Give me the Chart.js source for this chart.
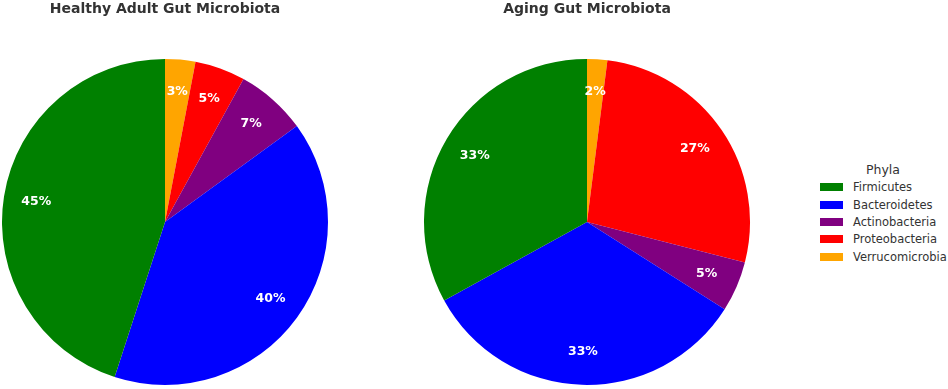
<!DOCTYPE html>
<html>
<head>
<meta charset="utf-8">
<script src="https://cdn.jsdelivr.net/npm/chart.js@4.4.0/dist/chart.umd.min.js"></script>
<style>
  body { margin: 0; background: #fff; font-family: "DejaVu Sans", sans-serif; }
  #wrap { position: relative; width: 948px; height: 389px; }
  canvas { position: absolute; top: 0; }
  #left { left: 0; }
  #right { left: 422px; }
  #legend { position: absolute; left: 820px; top: 162px; width: 128px; color: #333; font-size: 11.5px; }
  #legend .ttl { text-align: center; font-size: 12.5px; line-height: 15px; margin-bottom: 1.5px; padding-right: 2px; }
  #legend .row { display: flex; align-items: center; height: 17.4px; white-space: nowrap; }
  #legend .box { width: 23px; height: 8px; margin-right: 10px; flex: none; }
</style>
</head>
<body>
<div id="wrap">
  <canvas id="left" width="330" height="389"></canvas>
  <canvas id="right" width="330" height="389"></canvas>
  <div id="legend"></div>
</div>
<script>
const phyla = ['Firmicutes', 'Bacteroidetes', 'Actinobacteria', 'Proteobacteria', 'Verrucomicrobia'];
const healthyValues = [45, 40, 7, 5, 3];
const agingValues = [33, 33, 5, 27, 2];
const phylaColors = ['#008000', '#0000ff', '#800080', '#ff0000', '#ffa500'];
const titles = ['Healthy Adult Gut Microbiota', 'Aging Gut Microbiota'];

// percent labels at 0.8 of the radius, like matplotlib pctdistance
const pctLabels = {
    id: 'pctLabels',
    afterDatasetsDraw(chart) {
        const ctx = chart.ctx;
        const data = chart.data.datasets[0].data;
        const total = data.reduce((a, b) => a + b, 0);
        ctx.save();
        ctx.fillStyle = '#fff';
        ctx.font = 'bold 12.5px "DejaVu Sans"';
        ctx.textAlign = 'center';
        ctx.textBaseline = 'middle';
        chart.getDatasetMeta(0).data.forEach((arc, i) => {
            const mid = (arc.startAngle + arc.endAngle) / 2;
            const r = arc.outerRadius * 0.8;
            ctx.fillText(Math.round(data[i] / total * 100) + '%', arc.x + Math.cos(mid) * r, arc.y + Math.sin(mid) * r);
        });
        ctx.restore();
    }
};

function drawPie(id, values, title) {
    // chart.js goes clockwise, matplotlib counter-clockwise: reverse the order
    new Chart(document.getElementById(id), {
        type: 'pie',
        data: {
            labels: phyla.slice().reverse(),
            datasets: [{
                data: values.slice().reverse(),
                backgroundColor: phylaColors.slice().reverse(),
                borderWidth: 0
            }]
        },
        options: {
            responsive: false,
            animation: false,
            layout: { padding: { top: 0, bottom: 4, left: 2, right: 2 } },
            plugins: {
                legend: { display: false },
                tooltip: { enabled: false },
                title: {
                    display: true,
                    text: title,
                    color: '#333',
                    font: { family: 'DejaVu Sans', size: 14, weight: 'bold', lineHeight: 1.2 },
                    padding: { top: 1, bottom: 41 }
                }
            }
        },
        plugins: [pctLabels]
    });
}

drawPie('left', healthyValues, titles[0]);
drawPie('right', agingValues, titles[1]);

const legend = document.getElementById('legend');
legend.innerHTML = '<div class="ttl">Phyla</div>' + phyla.map((p, i) =>
    `<div class="row"><div class="box" style="background:${phylaColors[i]}"></div>${p}</div>`).join('');
</script>
</body>
</html>
